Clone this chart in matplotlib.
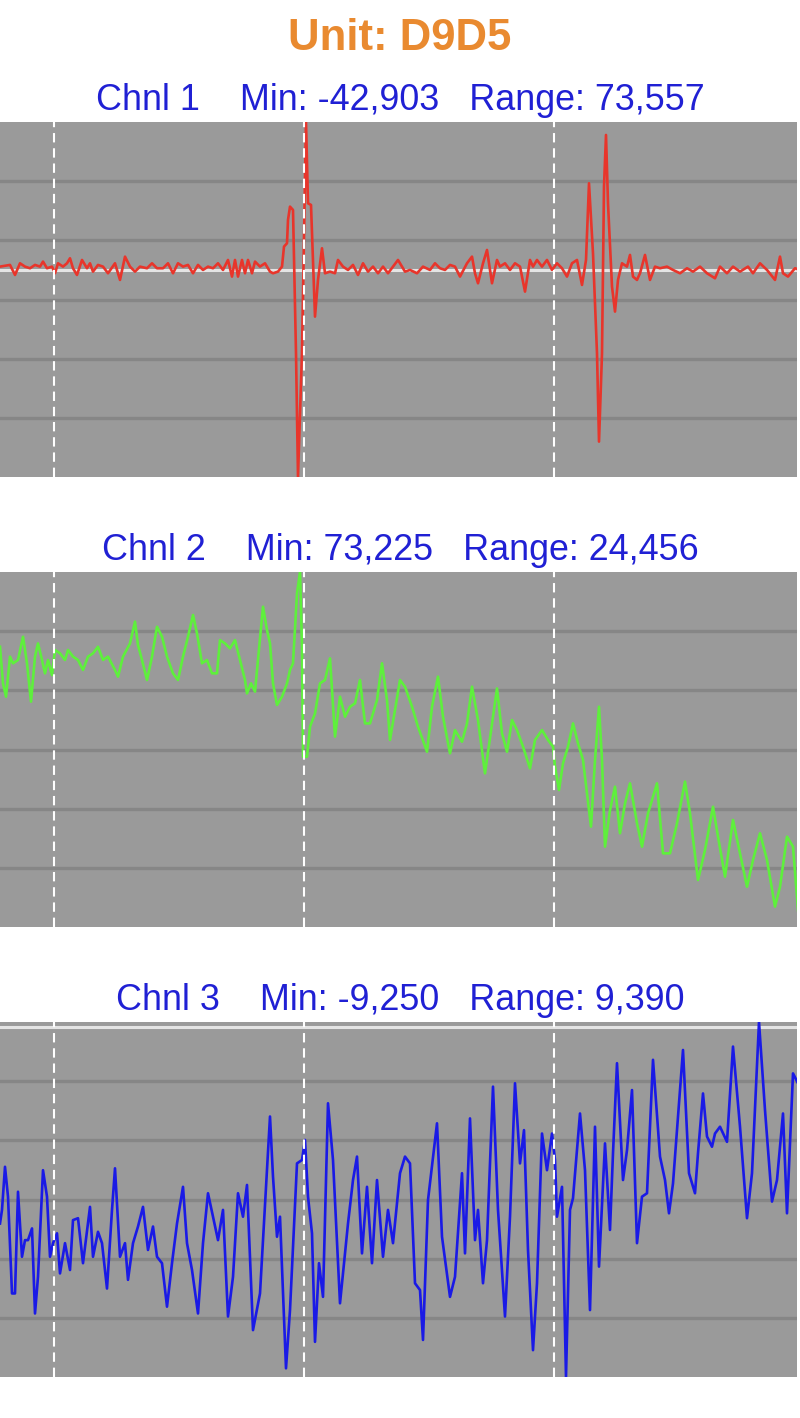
import numpy as np
import matplotlib.pyplot as plt

unit_name = "D9D5"
chnl_names = ["Chnl 1", "Chnl 2", "Chnl 3"]
chnl_min = [-42903, 73225, -9250]
chnl_range = [73557, 24456, 9390]
chnl_colors = ["#e8352b", "#5ef03c", "#1a1ae6"]
marker_pos = [54, 304, 554]          # marcas de segundo (muestras)

# canal 1 (rojo)
ch1_x = [0, 10, 15, 20, 25, 30, 35, 40, 43, 47, 52, 55, 58, 63, 67, 70, 73, 77, 82, 87,
         90, 93, 98, 103, 108, 115, 120, 125, 130, 135, 140, 147, 152, 157, 163, 168, 173, 178, 183, 188,
         193, 198, 203, 208, 213, 218, 223, 228, 232, 235, 238, 242, 245, 248, 252, 255, 260, 265, 270, 273,
         278, 282, 284, 287, 288, 290, 293, 296, 298, 302, 306, 308, 311, 315, 318, 322, 325, 330, 335, 338,
         343, 348, 353, 358, 363, 368, 373, 378, 383, 388, 393, 398, 405, 410, 417, 423, 430, 435, 440, 445,
         450, 455, 460, 467, 472, 475, 478, 483, 487, 492, 497, 500, 505, 510, 515, 520, 525, 530, 533, 537,
         542, 547, 552, 557, 562, 567, 572, 577, 582, 586, 589, 593, 597, 599, 602, 604, 606, 608, 612, 615,
         618, 622, 627, 630, 633, 637, 640, 645, 650, 655, 660, 667, 673, 680, 687, 693, 700, 707, 715, 720,
         727, 733, 740, 748, 753, 760, 767, 775, 780, 783, 788, 795, 800]
ch1_y = [690, 1040, -1040, 1380, 690, 350, 1040, 690, 1730, 350, 690, -690, 1380, 690, 1380, 2420, 350, -1040, 2070, 350,
         1380, -350, 1040, 690, -690, 1380, -2070, 2760, 690, -350, 690, 350, 1380, 350, 350, 1380, -690, 1380, 690, 1040,
         -690, 1040, 0, 690, 350, 1380, 0, 2070, -1380, 2070, -1380, 2070, -690, 2070, -690, 1730, 690, 1380, -350, -690,
         -350, 690, 4840, 5530, 10360, 13120, 12430, -17270, -42903, -17000, 30654, 13810, 13470, -9670, -2070, 4490, -690, -350, -690, 2070,
         690, 0, 1040, -1040, 1380, -350, 690, -690, 690, -690, 690, 2070, -350, 0, -690, 690, 0, 1380, 350, 0,
         1040, 690, -1380, 1380, 2760, -690, -2760, 1380, 4140, -2760, 2070, 690, 1380, 0, 1380, 690, -4490, 2070, 690, 2070,
         690, 2070, 0, 1380, 350, -1380, 1380, 2070, -3110, 2070, 17960, 3450, -17270, -35570, -17270, 17270, 27970, 13810, -3450, -8630,
         -2070, 1380, 690, 3110, -1380, -2070, -690, 3110, -2070, 690, 350, 690, 0, -690, 350, -350, 690, -690, -1730, 690,
         -690, 690, -350, 690, -690, 1380, 0, -2070, 2760, -690, -1380, 350, 0]

# canal 2 (verde)
ch2_x = [0, 3, 6, 10, 13, 18, 23, 27, 31, 35, 38, 42, 45, 48, 52, 55, 60, 65, 68, 73,
         78, 83, 88, 93, 98, 103, 108, 115, 118, 123, 130, 135, 138, 142, 147, 152, 157, 162, 167, 173,
         178, 183, 188, 193, 197, 202, 207, 212, 217, 220, 225, 230, 235, 240, 245, 247, 251, 255, 258, 263,
         267, 270, 273, 277, 282, 287, 290, 293, 297, 300, 302, 303, 307, 310, 315, 320, 325, 330, 335, 340,
         345, 350, 355, 360, 365, 370, 377, 382, 387, 390, 395, 400, 405, 412, 418, 427, 432, 438, 443, 450,
         455, 462, 467, 472, 478, 485, 492, 497, 502, 507, 512, 517, 523, 530, 535, 542, 548, 553, 555, 559,
         563, 568, 573, 578, 583, 591, 595, 599, 602, 605, 610, 615, 620, 625, 630, 637, 642, 648, 657, 663,
         670, 677, 685, 690, 698, 705, 713, 718, 725, 733, 740, 747, 753, 760, 767, 775, 780, 787, 793, 798,
         800]
ch2_y = [92530, 90010, 89090, 91850, 91390, 91620, 93220, 91390, 88750, 91850, 92760, 91620, 90700, 91620, 90580, 92310, 92080, 91620, 92310, 91850,
         91620, 90930, 91850, 92080, 92530, 91620, 91850, 90930, 90470, 91850, 92760, 94260, 92650, 91620, 90240, 91850, 93910, 93220, 91850, 90700,
         90240, 91850, 93220, 94720, 93450, 91390, 91620, 90700, 90700, 92990, 92760, 92420, 92990, 91620, 90240, 89320, 90010, 89440, 91620, 95290,
         93680, 92760, 90010, 88520, 89090, 90010, 90930, 91390, 96210, 97681, 92530, 84960, 84960, 87020, 87940, 90010, 90240, 91730, 86340, 89090,
         87710, 88400, 88630, 90240, 87250, 87250, 88860, 91390, 88860, 86110, 88170, 90240, 89780, 88400, 87020, 85300, 88400, 90470, 87710, 85190,
         86790, 85990, 87250, 89780, 87480, 83810, 87250, 89660, 86560, 85300, 87480, 86790, 85650, 84150, 86110, 86790, 86110, 85650, 84270, 82660,
         84500, 85650, 87250, 85880, 84730, 80140, 84730, 88400, 84730, 78760, 81280, 82890, 79680, 81740, 83120, 80370, 78760, 81050, 83120, 78300,
         78300, 80370, 83240, 81050, 76460, 78530, 81510, 79450, 76690, 80600, 78300, 76000, 77840, 79680, 77840, 74630, 76000, 79450, 78760, 74400,
         73225]

# canal 3 (azul)
ch3_x = [0, 2, 5, 8, 12, 15, 18, 22, 25, 28, 32, 35, 38, 43, 47, 50, 53, 57, 60, 65,
         70, 73, 78, 83, 90, 93, 98, 102, 107, 112, 115, 120, 125, 128, 133, 138, 143, 148, 153, 157,
         162, 167, 172, 177, 183, 187, 192, 198, 203, 208, 213, 218, 223, 228, 233, 238, 243, 247, 253, 260,
         267, 270, 273, 277, 280, 286, 290, 297, 302, 305, 308, 312, 315, 319, 323, 328, 333, 340, 348, 353,
         357, 362, 367, 372, 377, 383, 388, 393, 400, 405, 410, 415, 420, 423, 428, 437, 442, 450, 455, 462,
         465, 470, 475, 478, 483, 487, 493, 498, 505, 510, 515, 520, 524, 528, 533, 537, 542, 547, 552, 555,
         557, 562, 566, 570, 573, 580, 585, 590, 595, 599, 605, 610, 613, 617, 623, 627, 632, 637, 642, 647,
         653, 660, 665, 669, 673, 683, 689, 695, 698, 703, 707, 712, 715, 720, 727, 733, 740, 747, 752, 759,
         765, 772, 777, 783, 787, 793, 798]
ch3_y = [-5190, -4830, -3690, -4480, -7040, -7040, -4350, -6070, -5630, -5630, -5320, -7570, -6600, -3780, -4480, -6070, -5710, -5450, -6510, -5710,
         -6420, -5100, -5050, -6240, -4750, -6070, -5410, -5710, -6910, -4830, -3730, -6070, -5710, -6680, -5710, -5270, -4750, -5890, -5270, -6070,
         -6240, -7390, -6240, -5190, -4220, -5710, -6420, -7570, -5710, -4390, -5010, -5630, -4830, -7650, -6600, -4390, -5010, -4170, -8010, -7040,
         -3780, -2360, -3950, -5540, -5010, -9020, -7480, -3600, -3510, -2980, -4480, -5450, -8320, -6240, -7130, -2010, -3510, -7300, -5190, -4040,
         -3420, -5980, -4220, -6240, -4040, -6070, -4830, -5710, -3860, -3420, -3600, -6770, -6950, -8270, -4570, -2540, -5540, -7130, -6600, -3860,
         -5980, -2410, -5630, -4830, -6770, -5630, -1570, -4830, -7650, -5010, -1480, -3600, -2720, -5890, -8540, -6770, -2810, -3780, -2810, -3510,
         -5010, -4220, -9250, -4830, -4520, -2280, -3780, -7480, -2630, -6330, -3070, -5360, -3330, -950, -4040, -3250, -1660, -5710, -4480, -4390,
         -860, -3420, -4040, -4920, -4130, -600, -3860, -4390, -3330, -1750, -2890, -3160, -2810, -2630, -3030, -510, -2630, -5050, -3860, 140,
         -2190, -4610, -4040, -2280, -4920, -1220, -1480]

series_x = [ch1_x, ch2_x, ch3_x]
series_y = [ch1_y, ch2_y, ch3_y]

fig = plt.figure(figsize=(8, 14.18), dpi=100)
fig.text(0.5, 1 - 38 / 1418, "Unit: " + unit_name, ha='center', va='center',
         color='#e98a30', fontsize=31.5, fontweight='bold', family='Liberation Sans')

tops = [122, 572, 1022]            # borde superior de cada panel (px)
for i in range(3):
    mn = chnl_min[i]
    rg = chnl_range[i]
    bottom = 1 - (tops[i] + 355) / 1418
    ax = fig.add_axes([0, bottom, 797 / 800, 355 / 1418])
    ax.set_facecolor('#9a9a9a')
    ax.set_xlim(0, 797)
    ax.set_ylim(mn, mn + rg)
    ax.set_yticks([mn + rg * k / 6 for k in range(1, 6)])
    ax.grid(axis='y', color='#868686', lw=2.4)
    ax.tick_params(length=0, labelleft=False, labelbottom=False)
    for s in ax.spines.values():
        s.set_visible(False)
    if mn < 0 < mn + rg:
        ax.axhline(0, color='#e4e4e4', lw=2.2, zorder=2)
    ax.plot(series_x[i], series_y[i], color=chnl_colors[i], lw=1.9, zorder=3)
    for m in marker_pos:
        ax.axvline(m, color='white', ls=(0, (4.5, 2.8)), lw=1.5, zorder=4)

    titulo = f"{chnl_names[i]}    Min: {mn:,}   Range: {rg:,}"
    fig.text(0.5, 1 - (tops[i] - 22) / 1418, titulo, ha='center', va='center',
             color='#2020d4', fontsize=25.8, family='Liberation Sans')

plt.savefig('out.png', dpi=100)
